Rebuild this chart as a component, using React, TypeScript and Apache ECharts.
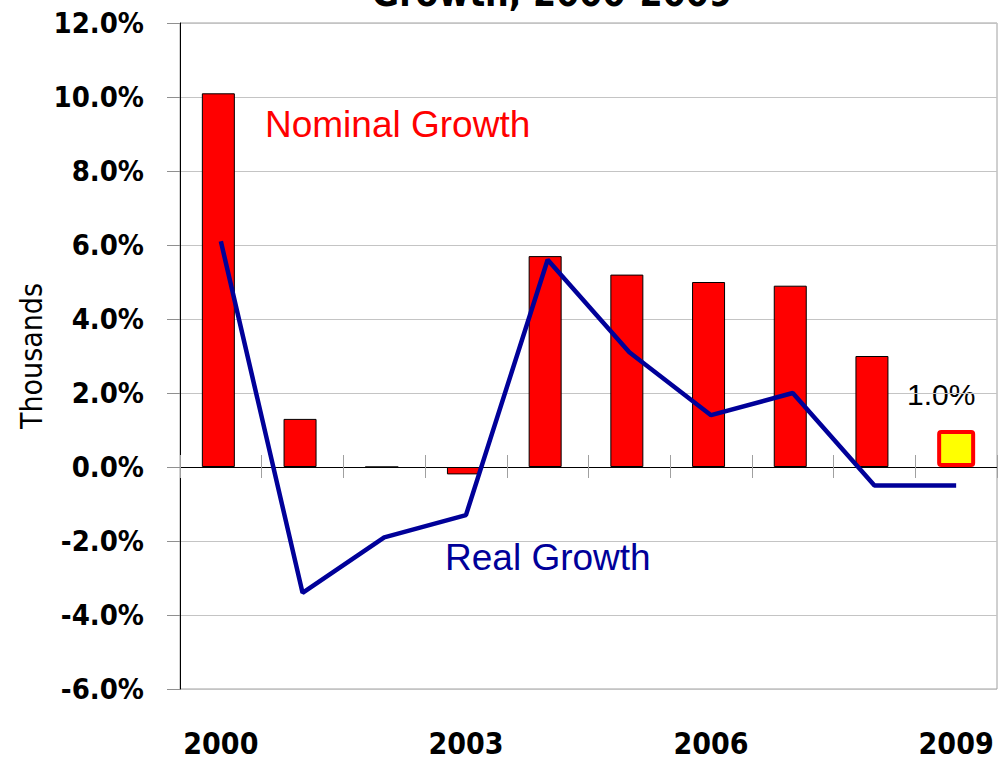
import React, { useEffect, useRef } from "react";
import * as echarts from "echarts";

const years = ["2000", "2001", "2002", "2003", "2004", "2005", "2006", "2007", "2008", "2009"];
const nominalGrowth = [10.1, 1.3, 0, -0.2, 5.7, 5.2, 5.0, 4.9, 3.0, null];
const estimate2009 = [null, null, null, null, null, null, null, null, null, 1.0];
const realGrowth = [6.1, -3.4, -1.9, -1.3, 5.6, 3.1, 1.4, 2.0, -0.5, -0.5];
const yMin = -6;
const yMax = 12;
const yStep = 2;

const COND = "'DejaVu Sans Condensed', 'DejaVu Sans', sans-serif";
const ARIAL = "'Liberation Sans', Arial, sans-serif";

export default function App() {
  const ref = useRef<HTMLDivElement>(null);
  useEffect(() => {
    if (!ref.current) return;
    const chart = echarts.init(ref.current, null, { renderer: "svg" });
    chart.setOption({
      animation: false,
      backgroundColor: "#ffffff",
      grid: {
        left: 180,
        right: 9,
        top: 23,
        bottom: 70,
        show: true,
        borderColor: "#a0a0a0",
        borderWidth: 1,
      },
      xAxis: [
        {
          type: "category",
          data: years,
          position: "bottom",
          axisLine: { show: true, onZero: true, onZeroAxisIndex: 0, lineStyle: { color: "#000", width: 1 } },
          axisTick: { show: true, inside: true, length: 12, interval: 0, lineStyle: { color: "#a0a0a0" } },
          axisLabel: { show: false },
          splitLine: { show: false },
        },
        {
          type: "category",
          data: years,
          position: "bottom",
          axisLine: { show: true, onZero: true, onZeroAxisIndex: 0, lineStyle: { color: "#000", width: 1 } },
          axisTick: { show: true, inside: false, length: 11, interval: 0, lineStyle: { color: "#a0a0a0" } },
          axisLabel: { show: false },
          splitLine: { show: false },
        },
        {
          type: "category",
          data: years,
          position: "bottom",
          axisLine: { show: false, onZero: false },
          axisTick: { show: false },
          axisLabel: {
            show: true,
            interval: 2,
            margin: 39,
            fontFamily: COND,
            fontWeight: "bold",
            fontSize: 30,
            color: "#000",
          },
          splitLine: { show: false },
        },
      ],
      yAxis: {
        type: "value",
        min: yMin,
        max: yMax,
        interval: yStep,
        axisLine: { show: true, lineStyle: { color: "#000", width: 1 } },
        axisTick: { show: true, length: 13, lineStyle: { color: "#909090" } },
        splitLine: { show: true, lineStyle: { color: "#c4c4c4", width: 1 } },
        axisLabel: {
          margin: 36,
          fontFamily: COND,
          fontWeight: "bold",
          fontSize: 29,
          color: "#000",
          formatter: (v: number) => v.toFixed(1) + "%",
        },
      },
      series: [
        {
          name: "Nominal Growth",
          type: "bar",
          xAxisIndex: 0,
          data: nominalGrowth,
          barWidth: 33,
          barGap: "-100%",
          itemStyle: { color: "#ff0000", borderColor: "#000", borderWidth: 1 },
          z: 2,
        },
        {
          name: "2009 Estimate",
          type: "bar",
          xAxisIndex: 0,
          data: estimate2009,
          barWidth: 38,
          barGap: "-100%",
          itemStyle: { color: "#ffff00", borderColor: "#ff0000", borderWidth: 4, borderRadius: 2 },
          z: 2,
        },
        {
          name: "Real Growth",
          type: "line",
          xAxisIndex: 0,
          data: realGrowth,
          symbol: "none",
          lineStyle: { color: "#000099", width: 4.5 },
          z: 3,
        },
      ],
      graphic: [
        {
          type: "text",
          x: 552,
          y: -7,
          style: {
            text: "Growth, 2000-2009",
            fontFamily: COND,
            fontWeight: "bold",
            fontSize: 37,
            fill: "#000",
            align: "center",
            verticalAlign: "middle",
          },
        },
        {
          type: "text",
          x: 31.5,
          y: 356,
          rotation: Math.PI / 2,
          style: {
            text: "Thousands",
            fontFamily: COND,
            fontSize: 30,
            fill: "#000",
            align: "center",
            verticalAlign: "middle",
          },
        },
        {
          type: "text",
          x: 265,
          y: 124,
          style: {
            text: "Nominal Growth",
            fontFamily: ARIAL,
            fontSize: 37,
            fill: "#ff0000",
            align: "left",
            verticalAlign: "middle",
          },
        },
        {
          type: "text",
          x: 445,
          y: 557,
          style: {
            text: "Real Growth",
            fontFamily: ARIAL,
            fontSize: 37,
            fill: "#000099",
            align: "left",
            verticalAlign: "middle",
          },
        },
        {
          type: "text",
          x: 907,
          y: 394,
          style: {
            text: "1.0%",
            fontFamily: ARIAL,
            fontSize: 30,
            fill: "#000",
            align: "left",
            verticalAlign: "middle",
          },
        },
      ],
    });
    return () => chart.dispose();
  }, []);
  return (
    <div
      ref={ref}
      style={{ position: "absolute", left: 0, top: 0, width: 1006, height: 759 }}
    />
  );
}
